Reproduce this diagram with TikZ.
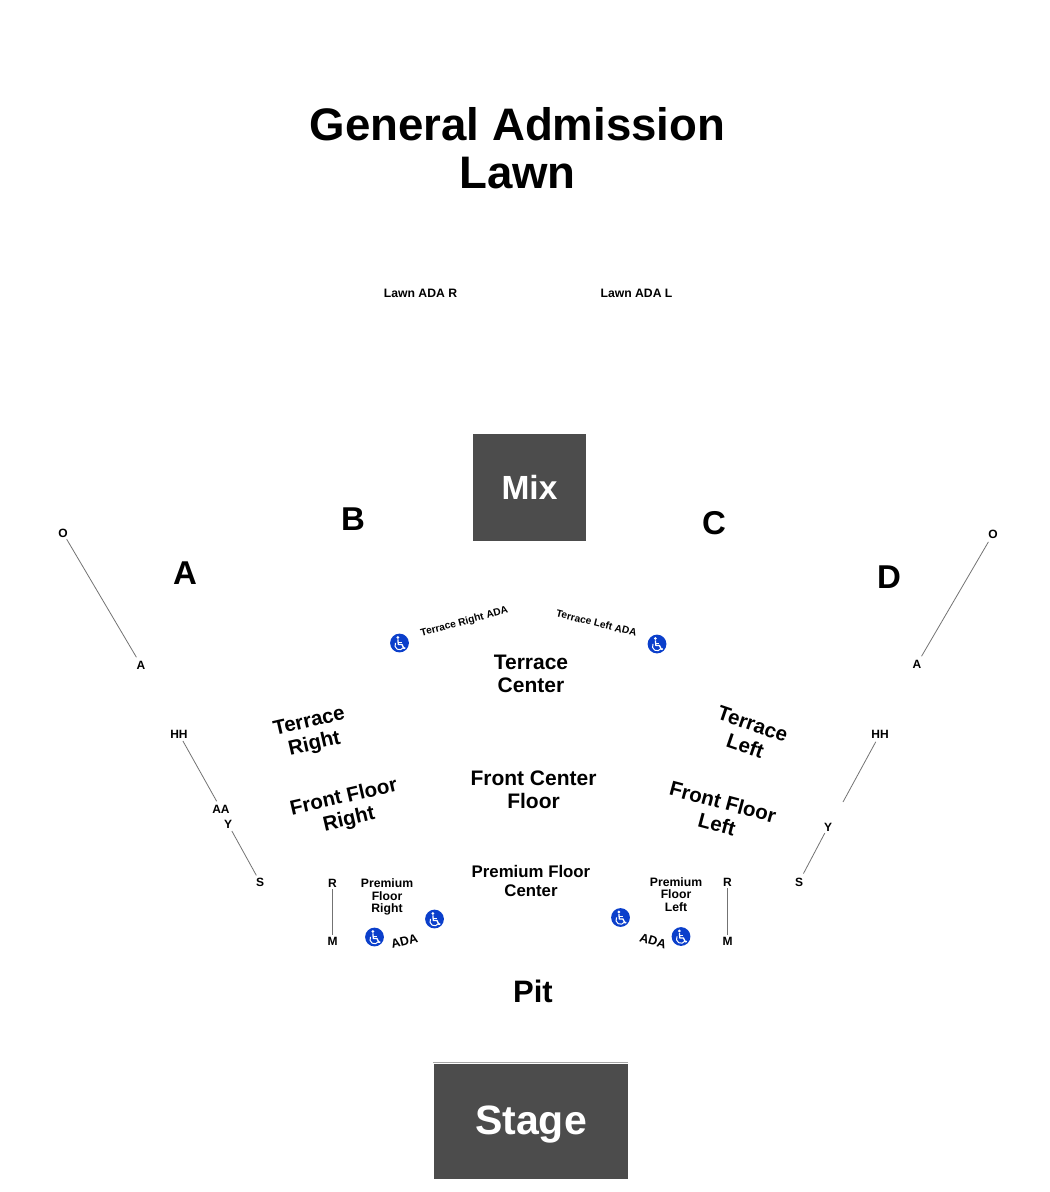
\documentclass[tikz,border=0pt]{standalone}
\usepackage{fontspec}
\setmainfont{Liberation Sans}
\definecolor{wheelblue}{HTML}{0B3FCB}
\tikzset{
 x=1pt,y=-1pt,
 lbl/.style={font=\bfseries\fontsize{#1}{#1}\selectfont,align=center,text=black,inner sep=0pt},
 big/.style={lbl=33},
 sec/.style={font=\bfseries\fontsize{20.5}{23}\selectfont,align=center,inner sep=0pt},
 secs/.style={font=\bfseries\fontsize{21}{23}\selectfont,align=center,inner sep=0pt},
 row/.style={font=\bfseries\fontsize{12}{12}\selectfont,inner sep=0pt},
 rowline/.style={draw=black!55,line width=0.8pt},
 block/.style={fill=black!70,draw=none,inner sep=0pt,text=white},
 wheel/.pic={
   \fill[wheelblue] (0,0) circle (9.4);
   \fill[white] (-1.6,-5.6) circle (1.5);
   \draw[white,line width=1.3pt,line join=round] (-1.6,-3.6) -- (-1.2,1.4) -- (2.4,1.4) -- (4.4,5.4) -- (5.8,4.8);
   \draw[white,line width=1pt] (-1.4,-1) -- (2.4,-1);
   \draw[white,line width=1pt] (-3.98,-0.1) arc[start angle=210,end angle=30,radius=4.6];
 }
}
\begin{document}
\begin{tikzpicture}
\useasboundingbox (0,0) rectangle (1050,1192);
\node[font=\bfseries\fontsize{45.6}{48}\selectfont,align=center,inner sep=0pt] (lawn) at (517.5,148) {General Admission\\Lawn};
\node[lbl=12.2] (adar) at (420.5,293) {Lawn ADA R};
\node[lbl=12.2] (adal) at (636.5,293) {Lawn ADA L};
\node[block,minimum width=113pt,minimum height=107pt,font=\bfseries\fontsize{33.5}{36}\selectfont] (mix) at (529.5,487) {Mix};
\node[block,minimum width=194pt,minimum height=115pt,font=\bfseries\fontsize{41}{42}\selectfont] (stage) at (531,1121) {\raisebox{-13.5pt}[0pt][0pt]{Stage}};
\coordinate (stl) at (433,1062.5); \coordinate (str) at (628,1062.5);
\draw[black!35,line width=0.8pt] (stl) -- (str);
\node[big] (A) at (185,573) {A};
\node[big] (B) at (353,519) {B};
\node[big] (C) at (714,523) {C};
\node[big] (D) at (889,577) {D};
\node[secs] (tc) at (531,673.5) {Terrace\\Center};
\node[sec,rotate=13] (tr) at (312,733.5) {Terrace\\Right};
\node[sec,rotate=-19] (tl) at (749,735) {Terrace\\Left};
\node[secs] (fc) at (533.5,790) {Front Center\\Floor};
\node[sec,rotate=13] (fr) at (346.5,809) {Front Floor\\Right};
\node[sec,rotate=-15] (fl) at (720,813) {Front Floor\\Left};
\node[font=\bfseries\fontsize{16.8}{19}\selectfont,align=center,inner sep=0pt] (pc) at (531,880.5) {Premium Floor\\Center};
\node[font=\bfseries\fontsize{12.2}{12.6}\selectfont,align=center,inner sep=0pt] (pr) at (387,897) {Premium\\Floor\\Right};
\node[font=\bfseries\fontsize{12.2}{12.6}\selectfont,align=center,inner sep=0pt] (pl) at (676,894.5) {Premium\\Floor\\Left};
\node[lbl=31] (pit) at (533,991) {Pit};
\node[lbl=10.2,rotate=15] (tra) at (464.5,622) {Terrace Right ADA};
\node[lbl=10.2,rotate=-14] (tla) at (596.5,623) {Terrace Left ADA};
\node[lbl=12.5,rotate=14] (ar) at (404.5,941) {ADA};
\node[lbl=12.5,rotate=-17] (al) at (653,941) {ADA};
\pic at (399.5,643) {wheel};
\pic at (657,644) {wheel};
\pic at (374.5,937) {wheel};
\pic at (434.5,919) {wheel};
\pic at (620.5,917.5) {wheel};
\pic at (681,936.5) {wheel};
% row labels
\node[row] (lo) at (63,533) {O};
\node[row] (la) at (141,665) {A};
\node[row] (lhh) at (179,734) {HH};
\node[row] (laa) at (221,809) {AA};
\node[row] (ly) at (228,824) {Y};
\node[row] (ls) at (260,882) {S};
\node[row] (lr) at (332.5,883) {R};
\node[row] (lm) at (332.5,941) {M};
\node[row] (ro) at (993,534) {O};
\node[row] (ra) at (917,664) {A};
\node[row] (rhh) at (880,734) {HH};
\node[row] (ry) at (828,827) {Y};
\node[row] (rs) at (799,882) {S};
\node[row] (rr) at (727.5,882) {R};
\node[row] (rm) at (727.5,941) {M};
\coordinate (rfree) at (843,802);
\draw[rowline,shorten >=4pt,shorten <=2pt] (lo) -- (la);
\draw[rowline,shorten >=4pt,shorten <=3pt] (lhh) -- (laa);
\draw[rowline,shorten >=2.5pt,shorten <=3pt] (ly) -- (ls);
\draw[rowline,shorten >=2pt,shorten <=2pt] (lr) -- (lm);
\draw[rowline,shorten >=4pt,shorten <=4pt] (ro) -- (ra);
\draw[rowline,shorten <=4pt] (rhh) -- (rfree);
\draw[rowline,shorten >=4.5pt,shorten <=2pt] (ry) -- (rs);
\draw[rowline,shorten >=2pt,shorten <=2pt] (rr) -- (rm);
\end{tikzpicture}
\end{document}
